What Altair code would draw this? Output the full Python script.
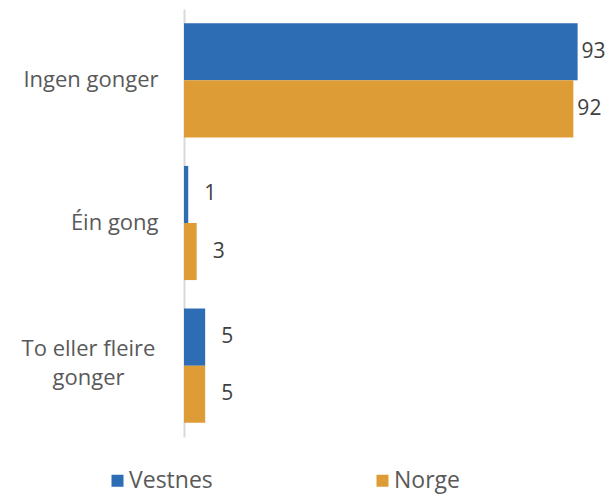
import altair as alt
import pandas as pd

categories = ["Ingen gonger", "Éin gong", "To eller fleire gonger"]
series = ["Vestnes", "Norge"]
vestnes = [93, 1, 5]
norge = [92, 3, 5]
colors = ["#2c6db3", "#de9c36"]

rows = []
for c, v, n in zip(categories, vestnes, norge):
    rows.append({"kategori": c, "serie": "Vestnes", "verdi": v})
    rows.append({"kategori": c, "serie": "Norge", "verdi": n})
df = pd.DataFrame(rows)

FONT = "Open Sans"
MULTI = "datum.value == 'To eller fleire gonger'"

y_enc = alt.Y(
    "kategori:N",
    sort=categories,
    scale=alt.Scale(paddingInner=0.2, paddingOuter=0.1),
    axis=alt.Axis(
        title=None,
        ticks=False,
        domainColor="#d9d9d9",
        domainWidth=2,
        labelFont=FONT,
        labelFontSize=22,
        labelColor="#595959",
        labelLineHeight=29,
        labelExpr="datum.value == 'To eller fleire gonger' ? ['To eller fleire', 'gonger'] : datum.value",
        labelAlign={"condition": {"test": MULTI, "value": "center"}, "value": "right"},
        labelPadding={"condition": {"test": MULTI, "value": 96}, "value": 26},
        labelOffset={"condition": {"test": MULTI, "value": -17}, "value": 0},
        labelLimit=300,
    ),
)
x_enc = alt.X("verdi:Q", scale=alt.Scale(domain=[0, 99], nice=False), axis=None)
yoff = alt.YOffset("serie:N", sort=series)

base = alt.Chart(df)

bars = base.mark_bar().encode(
    y=y_enc,
    x=x_enc,
    yOffset=yoff,
    color=alt.Color(
        "serie:N",
        sort=series,
        scale=alt.Scale(domain=series, range=colors),
        legend=alt.Legend(
            title=None,
            orient="none",
            direction="horizontal",
            legendX=-78,
            legendY=460,
            symbolType="square",
            symbolSize=144,
            symbolStrokeWidth=0,
            labelFont=FONT,
            labelFontSize=23,
            labelColor="#595959",
            labelOffset=0,
            columnPadding=158,
        ),
    ),
)

text_common = dict(align="left", baseline="middle", font=FONT, fontSize=21, color="#404040")
labels_big = base.transform_filter("datum.verdi >= 50").mark_text(dx=4, **text_common).encode(
    y=alt.Y("kategori:N", sort=categories), x="verdi:Q", yOffset=yoff, text="verdi:Q"
)
labels_small = base.transform_filter("datum.verdi < 50").mark_text(dx=16, **text_common).encode(
    y=alt.Y("kategori:N", sort=categories), x="verdi:Q", yOffset=yoff, text="verdi:Q"
)

chart = (
    alt.layer(bars, labels_big, labels_small)
    .properties(
        width=419,
        height=428,
        autosize=alt.AutoSizeParams(type="none"),
        padding={"left": 176, "top": 1, "right": 2, "bottom": 57},
    )
    .configure_view(stroke=None)
)

chart.save("out.html", embed_options={"renderer": "svg", "actions": False})
